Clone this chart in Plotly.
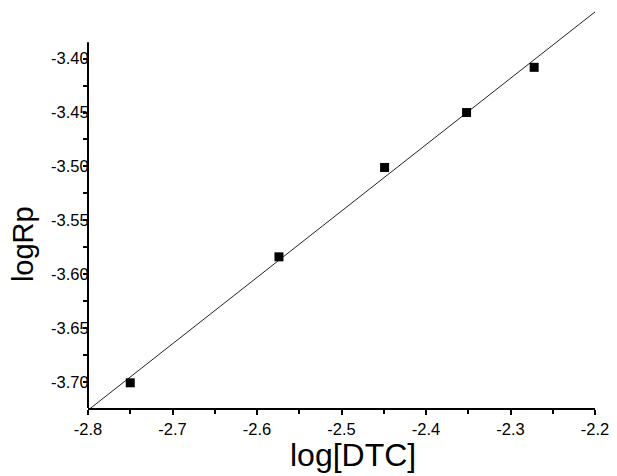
import numpy as np
import plotly.graph_objects as go

# Data
log_dtc = [-2.750, -2.574, -2.449, -2.352, -2.272]
log_rp = [-3.701, -3.584, -3.501, -3.450, -3.408]

x_tick_vals = [-2.8, -2.7, -2.6, -2.5, -2.4, -2.3, -2.2]
x_tick_text = ["-2.8", "-2.7", "-2.6", "-2.5", "-2.4", "-2.3", "-2.2"]
x_minor_vals = [-2.75, -2.65, -2.55, -2.45, -2.35, -2.25]
y_tick_vals = [-3.70, -3.65, -3.60, -3.55, -3.50, -3.45, -3.40]
y_tick_text = ["-3.70", "-3.65", "-3.60", "-3.55", "-3.50", "-3.45", "-3.40"]
y_minor_vals = [-3.725, -3.675, -3.625, -3.575, -3.525, -3.475, -3.425]

# Linear fit through the data
slope, intercept = np.polyfit(log_dtc, log_rp, 1)
fit_x = np.array([-2.8, -2.2])
fit_y = slope * fit_x + intercept

X_RANGE = [-2.8, -2.2]
Y_RANGE = [-3.7244, -3.3529]
Y_AXIS_TOP = -3.3847

FONT = "Arial, Liberation Sans, Helvetica, sans-serif"

fig = go.Figure()
fig.add_trace(go.Scatter(
    x=fit_x, y=fit_y, mode="lines",
    line=dict(color="#222222", width=1), showlegend=False, hoverinfo="skip",
))
fig.add_trace(go.Scatter(
    x=log_dtc, y=log_rp, mode="markers",
    marker=dict(symbol="square", size=9, color="black"),
    showlegend=False, cliponaxis=False,
))

fig.update_layout(
    width=617, height=476,
    margin=dict(l=80, r=30, t=0, b=76),
    paper_bgcolor="white", plot_bgcolor="white",
    font=dict(family=FONT, color="black"),
    xaxis=dict(
        range=X_RANGE, showgrid=False, zeroline=False,
        showline=True, linecolor="black", linewidth=2,
        tickmode="array", tickvals=x_tick_vals, ticktext=x_tick_text,
        ticks="outside", ticklen=5, tickwidth=1.5, tickcolor="black",
        tickfont=dict(size=16.5, family=FONT),
        minor=dict(tickmode="array", tickvals=x_minor_vals, ticks="outside",
                   ticklen=4, tickwidth=1.5, tickcolor="black"),
    ),
    yaxis=dict(
        range=Y_RANGE, showgrid=False, zeroline=False,
        showline=False,
        tickmode="array", tickvals=y_tick_vals, ticktext=y_tick_text,
        ticks="outside", ticklen=4, tickwidth=1.5, tickcolor="black",
        tickfont=dict(size=16.5, family=FONT),
        ticklabelstandoff=-9,
        minor=dict(tickmode="array", tickvals=y_minor_vals, ticks="outside",
                   ticklen=4, tickwidth=1.5, tickcolor="black"),
    ),
    shapes=[dict(
        type="line", xref="paper", yref="y",
        x0=0, x1=0, y0=Y_RANGE[0], y1=Y_AXIS_TOP,
        line=dict(color="black", width=2),
    )],
    annotations=[
        dict(text="log[DTC]", xref="paper", yref="paper", x=0.523, y=-0.118,
             xanchor="center", yanchor="middle", showarrow=False,
             font=dict(size=32, family=FONT, color="black")),
        dict(text="logRp", xref="paper", yref="paper", x=-0.128, y=0.41,
             xanchor="center", yanchor="middle", textangle=-90, showarrow=False,
             font=dict(size=29, family=FONT, color="black")),
    ],
)

fig.write_html("out.html")
